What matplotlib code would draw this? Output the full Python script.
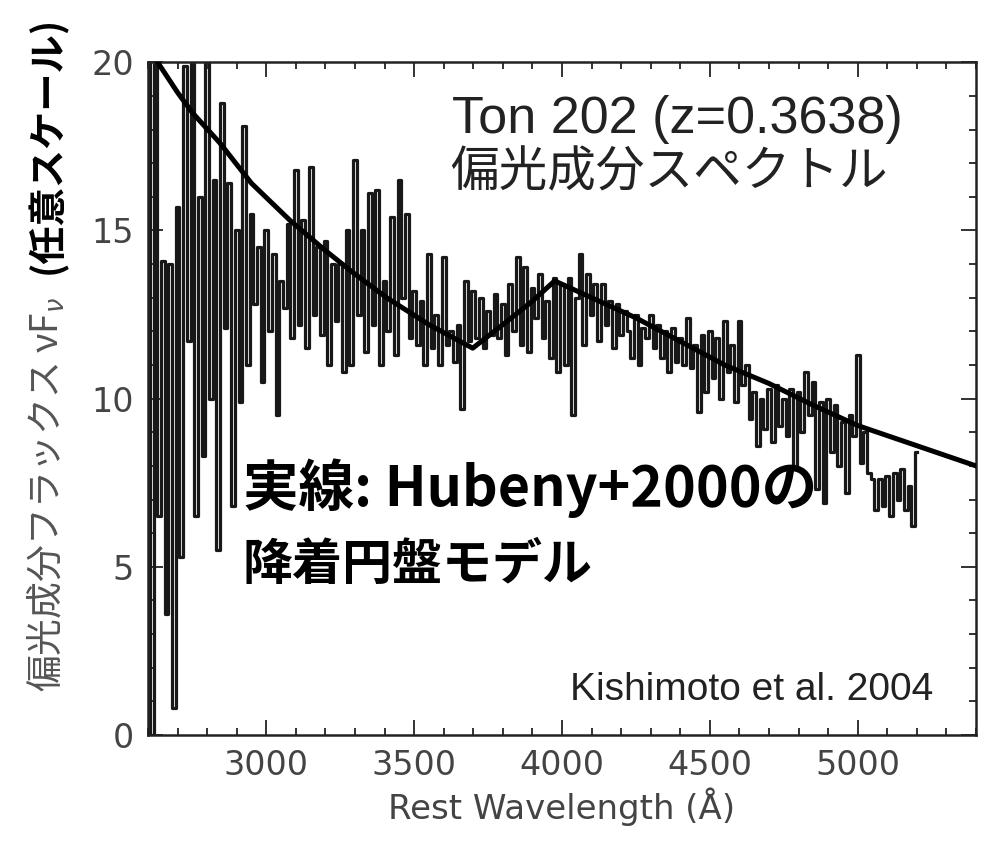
import numpy as np
import matplotlib
matplotlib.use("Agg")
import matplotlib.pyplot as plt
from matplotlib.ticker import MultipleLocator

# polarized flux spectrum, 12.5 A bins starting at 2600 A
flux = [21.0, 0.0, 20.5, 6.5, 14.1, 3.6, 14.0, 0.8,
        15.7, 5.3, 19.9, 11.7, 20.5, 6.5, 16.0, 8.3,
        20.5, 10.0, 16.5, 5.5, 18.8, 12.1, 16.4, 6.8,
        15.0, 9.9, 18.1, 11.0, 15.5, 12.8, 14.5, 10.5,
        15.0, 12.0, 14.3, 9.5, 13.5, 12.7, 15.2, 11.8,
        16.8, 12.2, 15.3, 11.5, 16.9, 12.5, 14.5, 11.9,
        14.7, 11.0, 14.0, 12.3, 14.0, 10.8, 15.0, 11.0,
        17.1, 12.5, 15.0, 11.4, 16.1, 12.2, 16.2, 11.0,
        13.5, 12.0, 15.4, 11.3, 16.5, 13.0, 15.5, 11.8,
        13.2, 11.6, 12.9, 11.0, 14.3, 11.5, 12.5, 11.0,
        14.2, 11.6, 12.0, 11.1, 12.2, 9.7, 13.5, 11.7,
        13.2, 11.8, 13.0, 11.5, 12.6, 11.9, 13.1, 11.8,
        12.8, 11.3, 13.4, 12.0, 14.2, 11.6, 13.9, 11.4,
        13.3, 12.4, 13.7, 11.8, 12.9, 11.2, 13.6, 10.8,
        13.4, 11.0, 13.6, 9.5, 13.0, 14.3, 11.6, 13.7,
        12.5, 13.4, 11.7, 13.4, 12.2, 12.9, 11.5, 12.8,
        11.9, 12.6, 12.0, 11.2, 12.5, 11.0, 12.1, 11.8,
        12.5, 11.5, 12.2, 11.2, 12.0, 10.8, 12.1, 11.1,
        11.8, 11.0, 12.4, 10.9, 11.6, 9.6, 11.9, 10.2,
        12.0, 10.6, 11.8, 10.0, 12.3, 10.8, 11.6, 9.9,
        12.3, 10.4, 11.0, 9.4, 10.2, 8.6, 10.0, 9.1,
        10.3, 8.7, 10.4, 9.2, 10.0, 8.9, 10.3, 8.0,
        10.2, 9.0, 10.8, 9.5, 10.5, 7.3, 9.9, 6.9,
        10.0, 8.4, 9.8, 8.0, 9.3, 7.2, 9.5, 8.9,
        11.3, 8.1, 9.0, 7.8, 7.6, 6.7, 7.6, 6.8,
        7.7, 6.5, 7.8, 7.0, 7.9, 6.7, 7.4, 6.2,
        8.4]
wave_start = 2600
wave_step = 12.5

# accretion disk model (Hubeny+2000)
model_wave = [2600, 2640, 2700, 2750, 2843, 2950, 3080, 3200, 3300, 3407, 3550, 3698,
              3800, 3900, 3975, 4100, 4250, 4400, 4550, 4700, 4850, 5000, 5200, 5400]
model_flux = [20.5, 19.9, 19.1, 18.5, 17.6, 16.4, 15.3, 14.4, 13.7, 13.0, 12.2, 11.5,
              12.2, 12.9, 13.5, 13.0, 12.4, 11.7, 11.0, 10.45, 9.8, 9.2, 8.6, 8.0]

xticks = [3000, 3500, 4000, 4500, 5000]
yticks = [0, 5, 10, 15, 20]

wave = wave_start + wave_step * np.arange(len(flux))

fig = plt.figure(figsize=(9.9, 8.41), dpi=100)
ax = fig.add_axes([0.1495, 0.126, 0.8364, 0.800])

ax.step(wave, flux, where="mid", color="#181818", lw=2.3)
ax.plot(model_wave, model_flux, color="black", lw=3.6, zorder=3)

ax.set_xlim(2600, 5400)
ax.set_ylim(0, 20)
ax.set_xticks(xticks)
ax.set_yticks(yticks)
ax.xaxis.set_minor_locator(MultipleLocator(100))
ax.yaxis.set_minor_locator(MultipleLocator(1))
ax.tick_params(which="both", direction="in", top=True, right=True, width=1.3, color="#222222")
ax.tick_params(which="major", length=11, labelsize=24, labelcolor="#444444", pad=10)
ax.tick_params(which="minor", length=5)
for s in ax.spines.values():
    s.set_linewidth(1.8)
    s.set_color("#222222")

ax.set_xlabel("Rest Wavelength (Å)", fontsize=24.5, color="#444444", labelpad=4)

# y label in two parts
fig.text(47 / 990, 1 - 692 / 841, "偏光成分フラックス νF$_\\nu$", rotation=90,
         ha="center", va="bottom", fontsize=26.5, color="#555555",
         family=["Noto Sans CJK JP", "DejaVu Sans"])
fig.text(47 / 990, 1 - 274 / 841, "(任意スケール)", rotation=90,
         ha="center", va="bottom", fontsize=27.5, color="black", fontweight="bold",
         family=["Noto Sans CJK JP", "DejaVu Sans"])

fig.text(452 / 990, 1 - 120 / 841, "Ton 202 (z=0.3638)", ha="left", va="center",
         fontsize=37.5, color="#222222", family=["Liberation Sans", "Noto Sans CJK JP"])
fig.text(450 / 990, 1 - 173 / 841, "偏光成分スペクトル", ha="left", va="center",
         fontsize=35, color="#222222", family=["Noto Sans CJK JP", "DejaVu Sans"])

fig.text(243 / 990, 1 - 488 / 841, "実線: Hubeny+2000の", ha="left", va="center",
         fontsize=40, color="black", fontweight="bold",
         family=["Noto Sans CJK JP", "DejaVu Sans"])
fig.text(243 / 990, 1 - 566 / 841, "降着円盤モデル", ha="left", va="center",
         fontsize=36, color="black", fontweight="bold",
         family=["Noto Sans CJK JP", "DejaVu Sans"])

fig.text(570 / 990, 1 - 690 / 841, "Kishimoto et al. 2004", ha="left", va="center",
         fontsize=28, color="#222222", family=["Liberation Sans", "DejaVu Sans"])

fig.savefig("out.png", dpi=100)
